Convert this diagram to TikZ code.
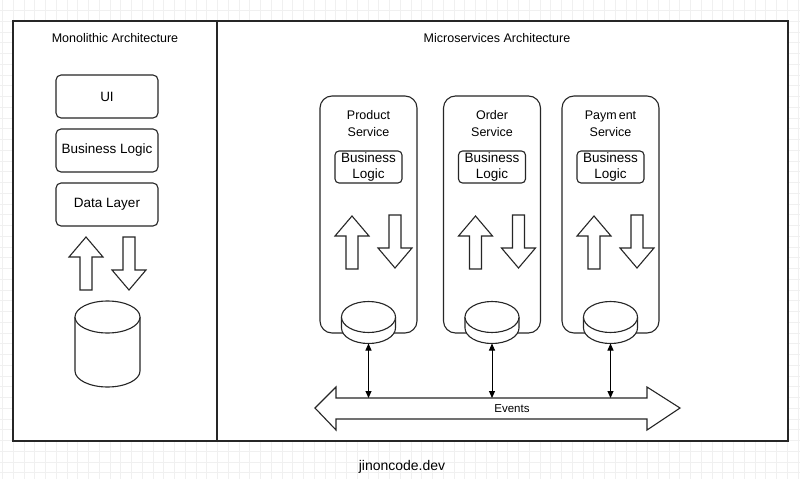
\documentclass[tikz,border=0pt]{standalone}
\usepackage{fontspec}
\setmainfont{Liberation Sans}
\usetikzlibrary{arrows.meta}
\tikzset{
  x=1pt, y=-1pt,
  ln/.style={draw=black!85, line width=1.1pt},
  panel/.style={ln, fill=white},
  rbox/.style={ln, fill=white, rounded corners=5pt, minimum width=102pt, minimum height=43pt, inner sep=0pt, font=\fontsize{13.5}{15}\selectfont},
  svc/.style={ln, fill=white, rounded corners=12pt, minimum width=97pt, minimum height=237pt, inner sep=0pt},
  inbox/.style={ln, fill=white, rounded corners=4pt, minimum width=67pt, minimum height=32pt, inner sep=0pt, align=center, font=\fontsize{13.5}{16}\selectfont},
  lbl/.style={align=center, inner sep=0pt, font=\fontsize{12.5}{17}\selectfont},
  blk/.style={ln, fill=white, line join=miter},
  gridline/.style={draw=black!6, line width=0.4pt},
  conn/.style={draw=black, line width=1pt, {Triangle[length=7pt,width=6pt]}-{Triangle[length=7pt,width=6pt]}},
  uparrow/.pic={\draw[blk] (0,0) -- (17,20) -- (6,20) -- (6,53) -- (-6,53) -- (-6,20) -- (-17,20) -- cycle;},
  downarrow/.pic={\draw[blk] (0,53) -- (17,33) -- (6,33) -- (6,0) -- (-6,0) -- (-6,33) -- (-17,33) -- cycle;},
}
\begin{document}
\begin{tikzpicture}
\useasboundingbox (0,0) rectangle (800,479);
\fill[white] (0,0) rectangle (800,479);
% background grid
\foreach \i in {0,...,75} {\draw[gridline] (2.25+10.75*\i,0) -- (2.25+10.75*\i,479);}
\foreach \j in {0,...,45} {\draw[gridline] (0,10.25+10.75*\j) -- (800,10.25+10.75*\j);}
% panels
\draw[panel] (13,21) rectangle (217,441);
\draw[panel] (217,21) rectangle (788,441);
\node[lbl] (monot) at (115,38) {Monolithic Architecture};
\node[lbl] (microt) at (497,38) {Microservices Architecture};
% monolith
\node[rbox] (ui) at (107,96.5) {UI};
\node[rbox] (bl) at (107,150.5) {Business Logic};
\node[rbox] (dl) at (107,204.5) {Data Layer};
\pic at (86,237) {uparrow};
\pic at (129,237) {downarrow};
\draw[ln, fill=white] (75,317) -- (75,371) arc[start angle=180, end angle=360, x radius=32.5, y radius=-16] -- (140,317);
\draw[ln, fill=white] (107.5,317) ellipse[x radius=32.5, y radius=16];
% services
\foreach \n/\cx/\a/\b in {ps/368.5/Product/Service, os/492/Order/Service, pay/610.5/Paym\,ent/Service} {
  \node[svc] (\n) at (\cx,214.5) {};
  \node[lbl] (\n t) at (\cx,123.5) {\a\\\b};
  \node[inbox] (\n b) at (\cx,167) {Business\\Logic};
  \pic at (\cx-16.5,216) {uparrow};
  \pic at (\cx+26.5,215) {downarrow};
  \draw[ln, fill=white] (\cx-27,317) -- (\cx-27,328) arc[start angle=180, end angle=360, x radius=27, y radius=-15.5] -- (\cx+27,317);
  \draw[ln, fill=white] (\cx,317) ellipse[x radius=27, y radius=15.5];
  \coordinate (\n d) at (\cx,343.5);
  \coordinate (\n e) at (\cx,398);
}
% events bus
\draw[blk] (315,408) -- (336,387) -- (336,398) -- (647,398) -- (647,387) -- (680,408) -- (647,430) -- (647,419) -- (336,419) -- (336,430) -- cycle;
\node[lbl] (ev) at (512,408.5) {\fontsize{11.5}{14}\selectfont Events};
\foreach \n in {ps,os,pay} {\draw[conn] (\n d) -- (\n e);}
\node[lbl] (site) at (402,467) {\fontsize{14}{16}\selectfont jinoncode.dev};
\end{tikzpicture}
\end{document}
